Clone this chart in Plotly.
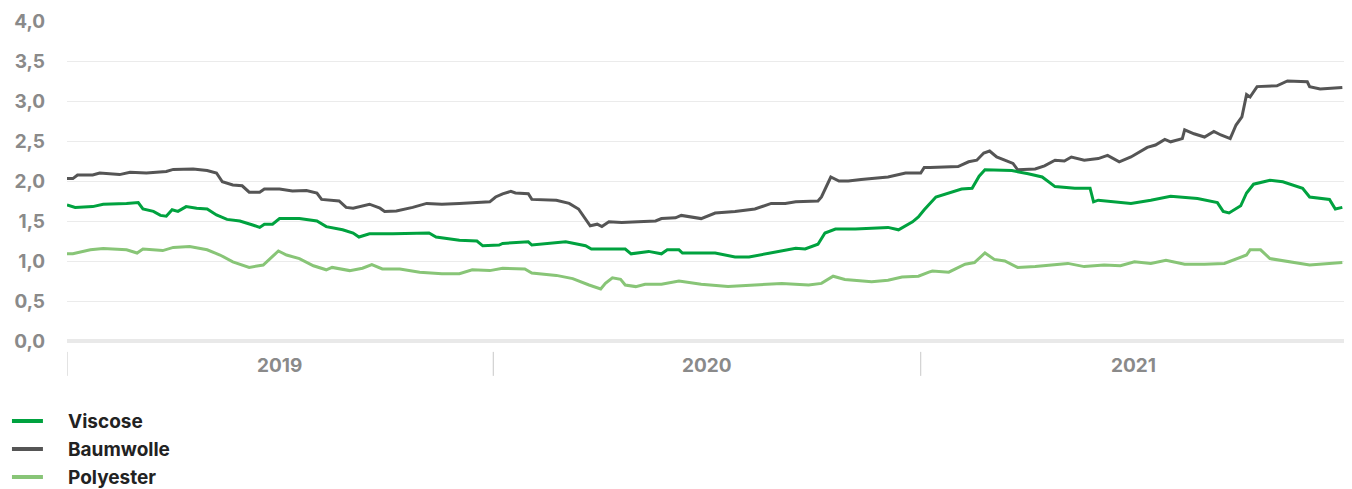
import plotly.graph_objects as go

series_names = ["Viscose", "Baumwolle", "Polyester"]
series_colors = ["#00A23F", "#555555", "#88C577"]

viscose_dates = [
    "2019-01-01", "2019-01-08", "2019-01-23", "2019-02-01", "2019-02-21", "2019-03-03", "2019-03-07",
    "2019-03-16", "2019-03-22", "2019-03-27", "2019-04-01", "2019-04-06", "2019-04-13", "2019-04-22",
    "2019-05-01", "2019-05-09", "2019-05-18", "2019-05-29", "2019-06-09", "2019-06-15", "2019-06-19",
    "2019-06-26", "2019-07-02", "2019-07-19", "2019-08-03", "2019-08-11", "2019-08-25", "2019-09-03",
    "2019-09-08", "2019-09-17", "2019-10-07", "2019-10-24", "2019-11-07", "2019-11-13", "2019-12-03",
    "2019-12-18", "2019-12-23", "2020-01-06", "2020-01-09", "2020-01-31", "2020-02-03", "2020-03-03",
    "2020-03-20", "2020-03-25", "2020-04-23", "2020-04-28", "2020-05-13", "2020-05-24", "2020-05-29",
    "2020-06-08", "2020-06-11", "2020-07-09", "2020-07-26", "2020-08-07", "2020-08-26", "2020-09-16",
    "2020-09-24", "2020-10-05", "2020-10-11", "2020-10-20", "2020-11-06", "2020-12-04", "2020-12-13",
    "2020-12-25", "2020-12-30", "2021-01-04", "2021-01-14", "2021-01-25", "2021-02-05", "2021-02-14",
    "2021-02-20", "2021-02-25", "2021-03-20", "2021-04-03", "2021-04-15", "2021-04-26", "2021-05-13",
    "2021-05-26", "2021-05-29", "2021-06-02", "2021-06-30", "2021-07-17", "2021-08-03", "2021-08-26",
    "2021-09-12", "2021-09-17", "2021-09-22", "2021-10-02", "2021-10-07", "2021-10-13", "2021-10-27",
    "2021-11-07", "2021-11-24", "2021-11-30", "2021-12-17", "2021-12-22", "2021-12-28",
]
viscose_values = [
    1.70, 1.67, 1.68, 1.71, 1.72, 1.73, 1.65,
    1.62, 1.57, 1.56, 1.64, 1.62, 1.68, 1.66,
    1.65, 1.575, 1.52, 1.50, 1.45, 1.42, 1.46,
    1.46, 1.53, 1.53, 1.50, 1.43, 1.39, 1.35,
    1.30, 1.34, 1.34, 1.35, 1.35, 1.30, 1.26,
    1.25, 1.19, 1.20, 1.22, 1.24, 1.20, 1.24,
    1.19, 1.15, 1.15, 1.09, 1.12, 1.09, 1.14,
    1.14, 1.10, 1.10, 1.05, 1.05, 1.10, 1.16,
    1.15, 1.21, 1.35, 1.40, 1.40, 1.42, 1.39,
    1.49, 1.55, 1.64, 1.80, 1.85, 1.90, 1.91,
    2.06, 2.14, 2.13, 2.09, 2.05, 1.93, 1.91,
    1.91, 1.74, 1.76, 1.72, 1.76, 1.81, 1.78,
    1.73, 1.62, 1.60, 1.69, 1.85, 1.96, 2.01,
    1.99, 1.91, 1.80, 1.77, 1.65, 1.67,
]

baumwolle_dates = [
    "2019-01-01", "2019-01-06", "2019-01-10", "2019-01-23", "2019-01-29", "2019-02-15", "2019-02-24",
    "2019-03-10", "2019-03-27", "2019-04-02", "2019-04-19", "2019-05-01", "2019-05-09", "2019-05-14",
    "2019-05-23", "2019-05-31", "2019-06-06", "2019-06-15", "2019-06-19", "2019-07-02", "2019-07-13",
    "2019-07-25", "2019-08-03", "2019-08-07", "2019-08-22", "2019-08-28", "2019-09-03", "2019-09-17",
    "2019-09-26", "2019-09-30", "2019-10-10", "2019-10-24", "2019-11-05", "2019-11-18", "2019-12-03",
    "2019-12-14", "2019-12-29", "2020-01-03", "2020-01-09", "2020-01-16", "2020-01-20", "2020-01-31",
    "2020-02-03", "2020-02-24", "2020-03-06", "2020-03-14", "2020-03-20", "2020-03-24", "2020-03-30",
    "2020-04-03", "2020-04-09", "2020-04-20", "2020-05-04", "2020-05-19", "2020-05-24", "2020-06-05",
    "2020-06-10", "2020-06-27", "2020-07-09", "2020-07-26", "2020-08-12", "2020-08-26", "2020-09-07",
    "2020-09-16", "2020-10-05", "2020-10-08", "2020-10-16", "2020-10-23", "2020-10-31", "2020-11-11",
    "2020-12-04", "2020-12-19", "2021-01-01", "2021-01-04", "2021-01-09", "2021-02-02", "2021-02-11",
    "2021-02-18", "2021-02-24", "2021-03-01", "2021-03-07", "2021-03-14", "2021-03-21", "2021-03-25",
    "2021-04-09", "2021-04-17", "2021-04-26", "2021-05-04", "2021-05-10", "2021-05-21", "2021-06-02",
    "2021-06-10", "2021-06-20", "2021-06-30", "2021-07-06", "2021-07-14", "2021-07-21", "2021-07-29",
    "2021-08-03", "2021-08-13", "2021-08-15", "2021-08-23", "2021-09-01", "2021-09-09", "2021-09-15",
    "2021-09-23", "2021-09-28", "2021-10-03", "2021-10-07", "2021-10-10", "2021-10-16", "2021-11-02",
    "2021-11-11", "2021-11-28", "2021-11-30", "2021-12-09", "2021-12-28",
]
baumwolle_values = [
    2.03, 2.03, 2.075, 2.075, 2.10, 2.08, 2.11,
    2.10, 2.12, 2.145, 2.15, 2.13, 2.10, 1.99,
    1.95, 1.94, 1.86, 1.86, 1.90, 1.90, 1.875,
    1.88, 1.85, 1.77, 1.75, 1.67, 1.66, 1.71,
    1.66, 1.62, 1.625, 1.67, 1.72, 1.71, 1.72,
    1.73, 1.74, 1.80, 1.84, 1.87, 1.85, 1.84,
    1.77, 1.76, 1.72, 1.65, 1.53, 1.44, 1.46,
    1.43, 1.49, 1.48, 1.49, 1.50, 1.53, 1.54,
    1.57, 1.53, 1.60, 1.62, 1.65, 1.72, 1.72,
    1.74, 1.75, 1.80, 2.05, 2.00, 2.00, 2.02,
    2.05, 2.10, 2.10, 2.17, 2.17, 2.18, 2.24,
    2.26, 2.35, 2.375, 2.30, 2.26, 2.22, 2.14,
    2.15, 2.19, 2.26, 2.25, 2.30, 2.26, 2.28,
    2.32, 2.24, 2.30, 2.35, 2.42, 2.45, 2.52,
    2.49, 2.53, 2.64, 2.59, 2.55, 2.62, 2.575,
    2.53, 2.70, 2.80, 3.08, 3.05, 3.18, 3.19,
    3.25, 3.24, 3.18, 3.15, 3.17,
]

polyester_dates = [
    "2019-01-01", "2019-01-06", "2019-01-21", "2019-02-01", "2019-02-21", "2019-03-02", "2019-03-07",
    "2019-03-24", "2019-04-02", "2019-04-16", "2019-05-01", "2019-05-12", "2019-05-23", "2019-06-06",
    "2019-06-18", "2019-06-24", "2019-07-01", "2019-07-08", "2019-07-19", "2019-07-31", "2019-08-11",
    "2019-08-16", "2019-08-31", "2019-09-11", "2019-09-19", "2019-09-28", "2019-10-13", "2019-10-30",
    "2019-11-18", "2019-12-03", "2019-12-14", "2019-12-29", "2020-01-06", "2020-01-09", "2020-01-28",
    "2020-02-03", "2020-02-24", "2020-03-09", "2020-03-23", "2020-04-02", "2020-04-06", "2020-04-12",
    "2020-04-19", "2020-04-23", "2020-05-02", "2020-05-10", "2020-05-24", "2020-06-08", "2020-06-27",
    "2020-07-20", "2020-08-12", "2020-09-04", "2020-09-27", "2020-10-08", "2020-10-18", "2020-10-28",
    "2020-11-20", "2020-12-04", "2020-12-16", "2020-12-30", "2021-01-08", "2021-01-11", "2021-01-25",
    "2021-02-08", "2021-02-16", "2021-02-25", "2021-03-05", "2021-03-14", "2021-03-25", "2021-04-09",
    "2021-04-23", "2021-05-07", "2021-05-21", "2021-06-07", "2021-06-21", "2021-07-03", "2021-07-17",
    "2021-07-30", "2021-08-15", "2021-09-01", "2021-09-18", "2021-09-29", "2021-10-07", "2021-10-10",
    "2021-10-19", "2021-10-27", "2021-11-13", "2021-11-30", "2021-12-28",
]
polyester_values = [
    1.09, 1.09, 1.14, 1.155, 1.14, 1.10, 1.15,
    1.13, 1.17, 1.18, 1.14, 1.075, 0.99, 0.92,
    0.95, 1.03, 1.125, 1.075, 1.03, 0.94, 0.89,
    0.92, 0.88, 0.91, 0.955, 0.90, 0.90, 0.86,
    0.84, 0.84, 0.89, 0.88, 0.90, 0.91, 0.90,
    0.85, 0.82, 0.78, 0.70, 0.65, 0.72, 0.79,
    0.77, 0.70, 0.68, 0.71, 0.71, 0.75, 0.71,
    0.68, 0.70, 0.72, 0.70, 0.72, 0.81, 0.77,
    0.74, 0.76, 0.80, 0.81, 0.86, 0.875, 0.86,
    0.96, 0.98, 1.10, 1.02, 1.00, 0.92, 0.93,
    0.95, 0.97, 0.93, 0.95, 0.94, 0.99, 0.97,
    1.01, 0.96, 0.96, 0.97, 1.03, 1.075, 1.14,
    1.14, 1.03, 0.99, 0.95, 0.98,
]

y_ticks = [0, 0.5, 1, 1.5, 2, 2.5, 3, 3.5, 4]
year_starts = ["2019-01-01", "2020-01-01", "2021-01-01"]
year_mids = ["2019-07-02", "2020-07-02", "2021-07-02"]
year_labels = ["2019", "2020", "2021"]
x_range = ["2019-01-01", "2022-01-01"]

FONT = "Inter"

fig = go.Figure()
all_dates = [viscose_dates, baumwolle_dates, polyester_dates]
all_values = [viscose_values, baumwolle_values, polyester_values]
# draw Polyester first, then Baumwolle, then Viscose on top
for i in [2, 1, 0]:
    fig.add_trace(go.Scatter(
        x=all_dates[i], y=all_values[i], mode="lines", name=series_names[i],
        line=dict(color=series_colors[i], width=3, shape="linear"),
        showlegend=False, hoverinfo="skip",
    ))

# year separator ticks and labels
for d in year_starts:
    fig.add_shape(type="line", xref="x", yref="paper", x0=d, x1=d, y0=-0.034, y1=-0.109,
                  line=dict(color="#c8c8c8", width=1))
for d, lab in zip(year_mids, year_labels):
    fig.add_annotation(x=d, xref="x", y=-0.078, yref="paper", text=lab, showarrow=False,
                       font=dict(family=FONT, size=19, color="#8a8a8a", weight="bold"),
                       xanchor="center", yanchor="middle")

# manual legend
legend_y = [-0.25, -0.3375, -0.425]
for name, col, ly in zip(series_names, series_colors, legend_y):
    fig.add_shape(type="line", xref="paper", yref="paper", x0=-0.0430, x1=-0.0188, y0=ly, y1=ly,
                  line=dict(color=col, width=4))
    fig.add_annotation(x=-0.0005, xref="paper", y=ly, yref="paper", text=name, showarrow=False,
                       font=dict(family=FONT, size=19, color="#222222", weight="bold"),
                       xanchor="left", yanchor="middle")

# the page body adds an 8px offset, so the figure is sized/margined to compensate
fig.update_layout(
    width=1344, height=481,
    margin=dict(l=59, r=5, t=13, b=148),
    paper_bgcolor="white", plot_bgcolor="white",
    separators=",.",
    showlegend=False,
    xaxis=dict(range=x_range, showgrid=False, showticklabels=False, ticks="", zeroline=False,
               showline=False, fixedrange=True, automargin=False),
    yaxis=dict(range=[0, 4], tickvals=y_ticks, tickformat=".1f", showgrid=True,
               gridcolor="#ebebeb", gridwidth=1, zeroline=True, zerolinecolor="#e9e9e9",
               zerolinewidth=4, showline=False, ticks="", ticklabelstandoff=21,
               tickfont=dict(family=FONT, size=19, color="#8a8a8a", weight="bold"),
               fixedrange=True, automargin=False),
)

fig.write_html("out.html")
